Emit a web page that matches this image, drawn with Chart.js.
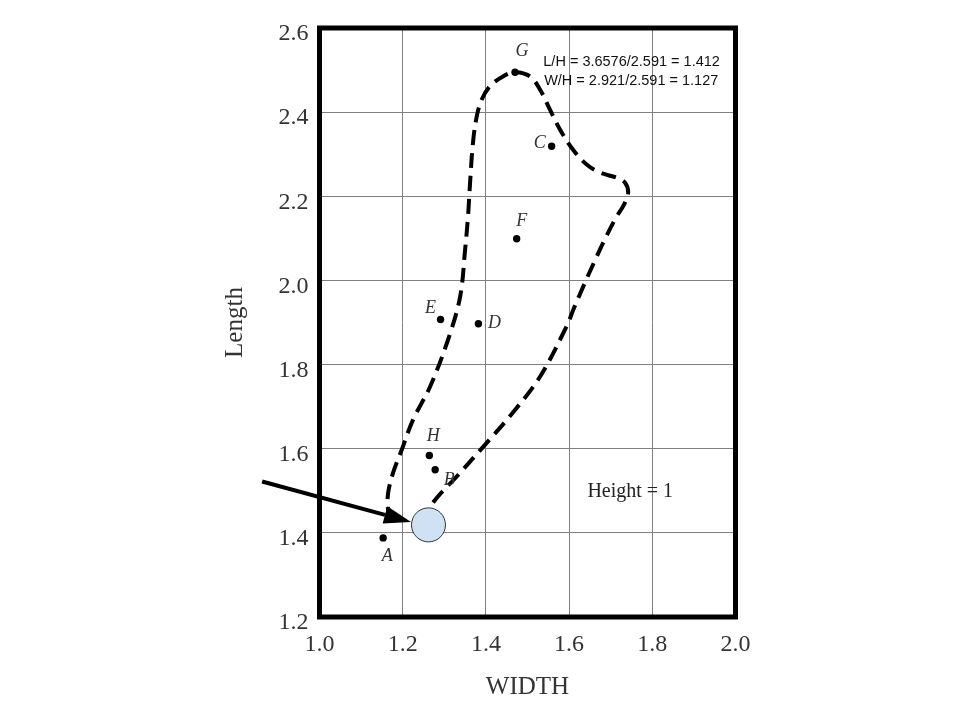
<!DOCTYPE html>
<html>
<head>
<meta charset="utf-8">
<script src="https://cdn.jsdelivr.net/npm/chart.js@4/dist/chart.umd.min.js"></script>
<style>
  html, body { margin: 0; padding: 0; background: #ffffff; }
  #wrap { width: 960px; height: 720px; }
</style>
</head>
<body>
<div id="wrap"><canvas id="c" width="960" height="720"></canvas></div>
<script>
// ---- data ----
const xTicks = [1.0, 1.2, 1.4, 1.6, 1.8, 2.0];
const yTicks = [1.2, 1.4, 1.6, 1.8, 2.0, 2.2, 2.4, 2.6];

const pointNames = ['A', 'B', 'C', 'D', 'E', 'F', 'G', 'H'];
const pointX = [1.153, 1.278, 1.558, 1.382, 1.291, 1.474, 1.470, 1.264];
const pointY = [1.388, 1.550, 2.319, 1.897, 1.907, 2.099, 2.495, 1.584];

const curveX = [1.176, 1.165, 1.165, 1.177, 1.198, 1.225, 1.266, 1.309, 1.338, 1.350, 1.357, 1.362,
                1.369, 1.378, 1.390, 1.410, 1.441, 1.470, 1.506, 1.530, 1.554, 1.578, 1.609, 1.643,
                1.675, 1.715, 1.734, 1.742, 1.732, 1.712, 1.686, 1.661, 1.636, 1.612, 1.594, 1.530,
                1.465, 1.402, 1.330, 1.273, 1.262];
const curveY = [1.428, 1.455, 1.495, 1.543, 1.598, 1.669, 1.748, 1.859, 1.961, 2.073, 2.152, 2.233,
                2.328, 2.390, 2.430, 2.462, 2.485, 2.495, 2.485, 2.454, 2.406, 2.359, 2.311, 2.275,
                2.256, 2.244, 2.233, 2.209, 2.180, 2.148, 2.098, 2.045, 1.990, 1.935, 1.891, 1.771,
                1.686, 1.614, 1.534, 1.472, 1.440];

const circleX = [1.262];
const circleY = [1.419];

const arrowX = [0.862, 1.220];
const arrowY = [1.522, 1.426];

const noteLines = ['L/H = 3.6576/2.591 = 1.412', 'W/H = 2.921/2.591 = 1.127'];
const noteX = [1.538, 1.540];
const noteY = [2.520, 2.473];
const heightNote = 'Height = 1';
const heightNoteX = [1.747];
const heightNoteY = [1.498];

// label offsets in px relative to point (styling)
const labelDx = [4, 14, -12, 16, -10, 5, 7, 4];
const labelDy = [18, 11, -3, 0, -11, -18, -21, -19];

const SERIF = '"Liberation Serif", "Times New Roman", serif';
const SANS = '"Liberation Sans", Arial, sans-serif';

const overlay = {
  id: 'overlay',
  afterDatasetsDraw(chart) {
    const {ctx, chartArea: a, scales: {x, y}} = chart;
    ctx.save();
    // point labels
    ctx.fillStyle = '#333';
    ctx.font = 'italic 18px ' + SERIF;
    ctx.textAlign = 'center';
    ctx.textBaseline = 'middle';
    pointNames.forEach((n, i) => {
      ctx.fillText(n, x.getPixelForValue(pointX[i]) + labelDx[i], y.getPixelForValue(pointY[i]) + labelDy[i]);
    });
    // notes
    ctx.fillStyle = '#111';
    ctx.font = '14.5px ' + SANS;
    ctx.textAlign = 'left';
    noteLines.forEach((t, i) => {
      ctx.fillText(t, x.getPixelForValue(noteX[i]), y.getPixelForValue(noteY[i]));
    });
    ctx.fillStyle = '#222';
    ctx.font = '20px ' + SERIF;
    ctx.textAlign = 'center';
    ctx.fillText(heightNote, x.getPixelForValue(heightNoteX[0]), y.getPixelForValue(heightNoteY[0]));
    // arrow
    const x0 = x.getPixelForValue(arrowX[0]), y0 = y.getPixelForValue(arrowY[0]);
    const x1 = x.getPixelForValue(arrowX[1]), y1 = y.getPixelForValue(arrowY[1]);
    const ang = Math.atan2(y1 - y0, x1 - x0);
    const hl = 27, hw = 9;
    const bx = x1 - hl * Math.cos(ang), by = y1 - hl * Math.sin(ang);
    ctx.strokeStyle = '#000';
    ctx.fillStyle = '#000';
    ctx.lineWidth = 4;
    ctx.beginPath();
    ctx.moveTo(x0, y0);
    ctx.lineTo(bx, by);
    ctx.stroke();
    ctx.beginPath();
    ctx.moveTo(x1, y1);
    ctx.lineTo(bx + hw * Math.sin(ang), by - hw * Math.cos(ang));
    ctx.lineTo(bx - hw * Math.sin(ang), by + hw * Math.cos(ang));
    ctx.closePath();
    ctx.fill();
    // border
    ctx.lineWidth = 5;
    ctx.strokeStyle = '#000';
    ctx.strokeRect(a.left, a.top, a.right - a.left, a.bottom - a.top);
    ctx.restore();
  }
};

new Chart(document.getElementById('c'), {
  type: 'scatter',
  data: {
    datasets: [
      {
        type: 'line',
        data: curveX.map((v, i) => ({x: v, y: curveY[i]})),
        borderColor: '#000',
        borderWidth: 4,
        borderDash: [15, 8],
        tension: 0.35,
        pointRadius: 0,
        fill: false,
        order: 3
      },
      {
        data: pointX.map((v, i) => ({x: v, y: pointY[i]})),
        backgroundColor: '#000',
        borderColor: '#000',
        pointRadius: 3.7,
        borderWidth: 0,
        order: 2
      },
      {
        data: circleX.map((v, i) => ({x: v, y: circleY[i]})),
        backgroundColor: '#cfe2f3',
        borderColor: '#333',
        borderWidth: 1,
        pointRadius: 17,
        order: 1
      }
    ]
  },
  options: {
    responsive: false,
    animation: false,
    events: [],
    layout: { padding: { left: 220, right: 224.5, top: 28, bottom: 0 } },
    plugins: { legend: { display: false }, tooltip: { enabled: false } },
    scales: {
      x: {
        type: 'linear',
        min: 1.0, max: 2.0,
        afterBuildTicks: (s) => { s.ticks = xTicks.map(v => ({value: v})); },
        afterFit: (s) => { s.height = 103; },
        grid: { color: '#808080', lineWidth: 1, drawTicks: false },
        border: { display: false },
        ticks: {
          padding: 13,
          color: '#333',
          font: { family: SERIF, size: 24 },
          callback: (v) => Number(v).toFixed(1)
        },
        title: {
          display: true, text: 'WIDTH', color: '#333',
          font: { family: SERIF, size: 25 },
          padding: { top: 0, bottom: 18 }
        }
      },
      y: {
        type: 'linear',
        min: 1.2, max: 2.6,
        afterBuildTicks: (s) => { s.ticks = yTicks.map(v => ({value: v})); },
        afterFit: (s) => { s.width = 99.5; },
        grid: { color: '#808080', lineWidth: 1, drawTicks: false },
        border: { display: false },
        ticks: {
          padding: 11,
          labelOffset: 6,
          color: '#333',
          font: { family: SERIF, size: 24 },
          callback: (v) => Number(v).toFixed(1)
        },
        title: {
          display: true, text: 'Length', color: '#333',
          font: { family: SERIF, size: 25 },
          padding: 0
        }
      }
    }
  },
  plugins: [overlay]
});
</script>
</body>
</html>
